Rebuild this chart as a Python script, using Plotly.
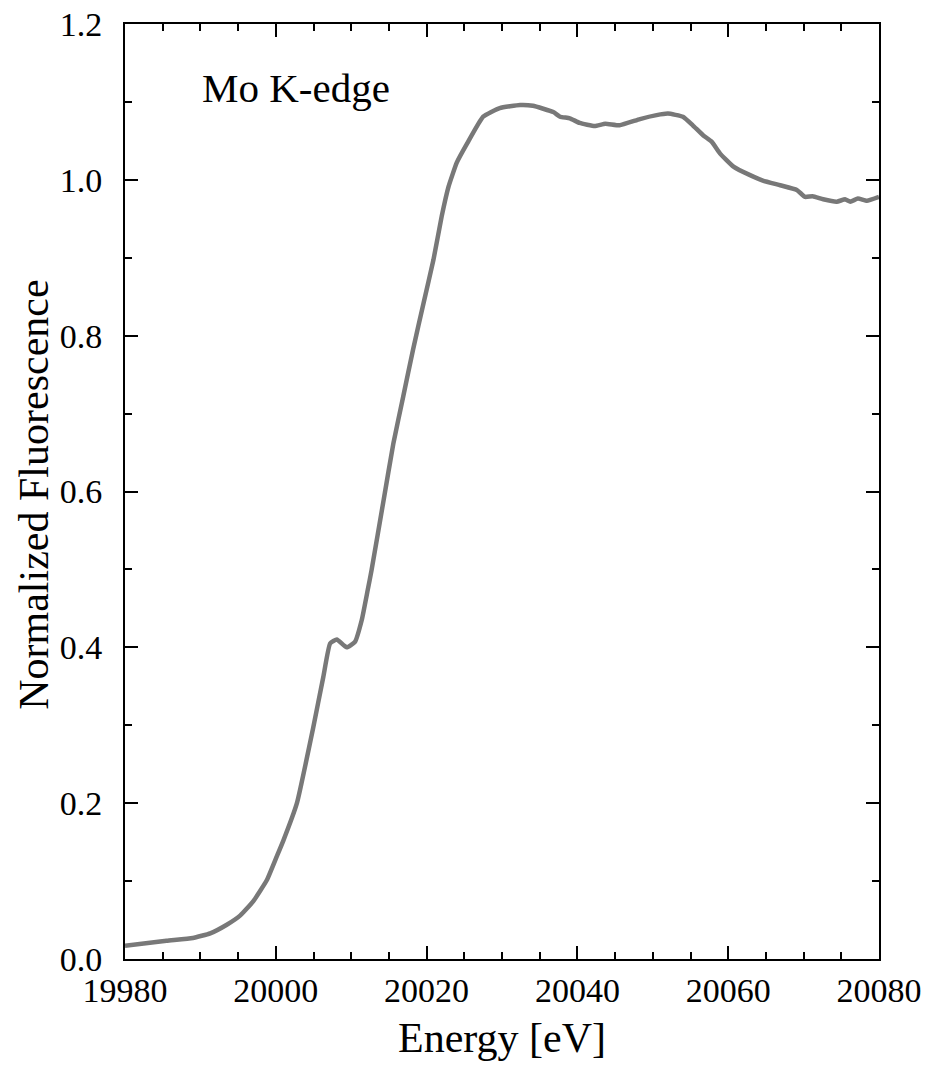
import plotly.graph_objects as go

energy = [19980, 19985.5, 19989, 19991.3, 19993.5, 19995.3, 19997, 19998.8, 20000.1,
          20001, 20002.8, 20004.9, 20006.3, 20007.2, 20008.1, 20009.4, 20010.5, 20011.4,
          20012.2, 20012.7, 20014.3, 20015.6, 20016.9, 20018.2, 20019.6, 20020.9, 20022,
          20022.9, 20024, 20025.4, 20027.5, 20029.7, 20032.4, 20034.1, 20036.8, 20037.7,
          20039, 20040.3, 20042.3, 20043.7, 20045.6, 20048.3, 20050.5, 20052, 20054,
          20055.3, 20056.7, 20057.8, 20058.9, 20060.7, 20062.9, 20064.6, 20066.9, 20069.1,
          20070.2, 20071.2, 20072.6, 20074.4, 20075.5, 20076.2, 20077.2, 20078.4, 20080]
fluorescence = [0.017, 0.0235, 0.027, 0.033, 0.044, 0.056, 0.074, 0.101, 0.131,
                0.152, 0.2, 0.294, 0.362, 0.405, 0.41, 0.40, 0.407, 0.435,
                0.474, 0.499, 0.589, 0.662, 0.722, 0.782, 0.842, 0.897, 0.953,
                0.991, 1.022, 1.047, 1.081, 1.092, 1.096, 1.095, 1.087, 1.081,
                1.079, 1.073, 1.069, 1.072, 1.070, 1.078, 1.083, 1.085, 1.081,
                1.070, 1.057, 1.049, 1.034, 1.017, 1.006, 0.999, 0.993, 0.987,
                0.978, 0.979, 0.975, 0.972, 0.975, 0.972, 0.976, 0.973, 0.978]

x_ticks = [19980, 20000, 20020, 20040, 20060, 20080]
x_tick_text = ["19980", "20000", "20020", "20040", "20060", "20080"]
y_ticks = [0.0, 0.2, 0.4, 0.6, 0.8, 1.0, 1.2]
y_tick_text = ["0.0", "0.2", "0.4", "0.6", "0.8", "1.0", "1.2"]
x_range = [19980, 20080]
y_range = [0, 1.2]

FONT = "Liberation Serif"

fig = go.Figure()
fig.add_trace(go.Scatter(x=energy, y=fluorescence, mode="lines",
                         line=dict(color="#787878", width=4.5, shape="spline", smoothing=0.4),
                         showlegend=False, hoverinfo="skip"))

axis_common = dict(
    showgrid=False, zeroline=False, showline=True, linecolor="black", linewidth=2,
    mirror="ticks", ticks="inside", ticklen=13, tickwidth=2, tickcolor="black",
    tickfont=dict(family=FONT, size=34, color="black"), automargin=False,
    ticklabeloverflow="allow",
)

fig.update_xaxes(range=x_range, tickvals=x_ticks, ticktext=x_tick_text,
                 minor=dict(ticks="inside", dtick=5, tick0=19980, ticklen=7, tickwidth=2, tickcolor="black"),
                 ticklabelstandoff=0, **axis_common)
fig.update_yaxes(range=y_range, tickvals=y_ticks, ticktext=y_tick_text,
                 minor=dict(ticks="inside", dtick=0.1, tick0=0, ticklen=7, tickwidth=2, tickcolor="black"),
                 ticklabelstandoff=14, **axis_common)

fig.add_annotation(x=19990, y=1.118, xref="x", yref="y", text="Mo K-edge",
                   showarrow=False, xanchor="left", yanchor="middle",
                   font=dict(family=FONT, size=41, color="black"))
fig.add_annotation(x=0.5, y=-0.0845, xref="paper", yref="paper", text="Energy [eV]",
                   showarrow=False, xanchor="center", yanchor="middle",
                   font=dict(family=FONT, size=42, color="black"))
fig.add_annotation(x=-0.12, y=0.496, xref="paper", yref="paper", text="Normalized Fluorescence",
                   showarrow=False, xanchor="center", yanchor="middle", textangle=-90,
                   font=dict(family=FONT, size=42, color="black"))

fig.update_layout(width=927, height=1066, margin=dict(l=125, r=48, t=24, b=107),
                  paper_bgcolor="white", plot_bgcolor="white")

fig.write_html("out.html", config={"displayModeBar": False},
               post_script="document.body.style.margin='0px';document.body.style.overflow='hidden';")
